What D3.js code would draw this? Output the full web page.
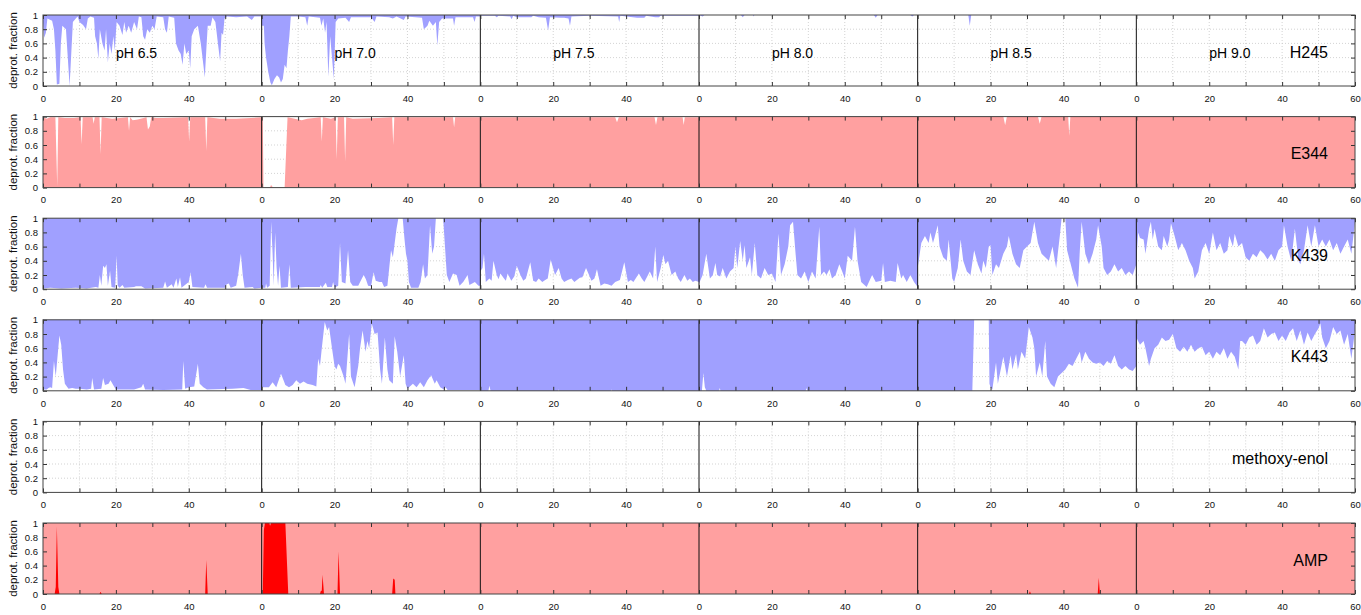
<!DOCTYPE html>
<html>
<head>
<meta charset="utf-8">
<script src="https://d3js.org/d3.v7.min.js"></script>
<style>
  body { margin: 0; background: #fff; }
  svg { display: block; font-family: "Liberation Sans", Arial, Helvetica, sans-serif; }
</style>
</head>
<body>
<svg id="chart" width="1361" height="615"></svg>
<script>
// pH windows, each 60 ns long, laid side by side
const phLabels = ["pH 6.5", "pH 7.0", "pH 7.5", "pH 8.0", "pH 8.5", "pH 9.0"];
const yTicks = [0, 0.2, 0.4, 0.6, 0.8, 1];

// deprotonated fraction per residue, one [time, value] list per pH window
const h245 = [
  [[0,0.9],[0.3,0.68],[0.8,0.75],[1.2,0.95],[2.5,0.92],[3,0.8],[3.4,0.5],[3.8,0.02],[4.5,0.03],[4.9,0.6],[5.3,0.85],[6.3,0.8],[6.8,0.4],[7.3,0],[7.7,0.4],[8.2,0.9],[9,0.95],[9.5,0.98],[10,0.9],[11,0.86],[11.8,0.8],[12.3,0.95],[13,0.98],[14,0.96],[14.3,0.7],[14.8,0.6],[15.2,0.38],[15.6,0.8],[16.3,0.6],[16.9,0.5],[17.3,0.8],[17.8,0.33],[18.3,0.6],[18.8,0.45],[19.3,0.7],[19.7,0.5],[20.2,0.9],[21,0.85],[21.8,0.72],[22.3,0.9],[22.8,0.75],[23.5,0.85],[24.2,0.75],[25,0.9],[25.8,0.8],[26.3,0.98],[27,0.97],[27.5,0.7],[28,0.65],[28.6,0.8],[29.3,0.75],[30,0.85],[30.6,0.8],[31.2,0.98],[33,0.97],[33.5,0.8],[34,0.75],[34.5,0.98],[36,0.96],[36.5,0.6],[37.2,0.5],[37.8,0.45],[38.3,0.3],[38.8,0.6],[39.3,0.45],[40,0.5],[40.4,0.25],[40.8,0.7],[41.5,0.8],[42.5,0.85],[43.3,0.6],[44,0.3],[44.4,0.12],[44.8,0.5],[45.2,0.85],[46,0.85],[46.5,0.97],[47.3,0.9],[48,0.6],[48.6,0.35],[49,0.75],[49.4,0.72],[49.8,0.95],[50.5,0.98],[53,0.97],[56,0.98],[57.3,0.93],[58,0.98],[60,0.98]],
  [[0,0.85],[0.6,0.85],[0.8,0.6],[1.2,0.4],[1.8,0.2],[2.4,0.05],[2.8,0.01],[3.5,0.1],[4.2,0.15],[4.8,0.12],[5.3,0.05],[5.8,0.1],[6.3,0.3],[6.8,0.25],[7.2,0.5],[7.6,0.7],[8,0.98],[10,0.98],[12,0.97],[12.5,0.85],[12.9,0.98],[16,0.96],[16.4,0.85],[16.9,0.95],[17.4,0.75],[17.8,0.9],[18.3,0.13],[18.8,0.7],[19.3,0.4],[19.8,0.1],[20.3,0.9],[21,0.95],[23,0.96],[24,0.9],[24.5,0.97],[30,0.97],[31,0.9],[31.5,0.98],[35,0.97],[36,0.95],[37,0.98],[39,0.93],[39.5,0.98],[44,0.96],[44.5,0.8],[45.5,0.85],[46,0.92],[47,0.85],[47.8,0.9],[48.2,0.57],[48.7,0.9],[49.5,0.95],[52.5,0.95],[52.8,0.85],[53.2,0.97],[58,0.97],[58.4,0.9],[58.8,0.98],[60,0.98]],
  [[0,0.99],[4,0.99],[4.5,0.97],[5,0.99],[8.2,0.98],[8.6,0.94],[9,0.99],[10,0.97],[14,0.97],[14.5,0.99],[16,0.97],[18,0.96],[18.6,0.78],[19.1,0.97],[22,0.96],[23,0.96],[24.2,0.95],[24.6,0.85],[25,0.98],[30,0.99],[37.8,0.98],[38.1,0.9],[38.4,0.99],[43,0.96],[45,0.96],[45.5,0.99],[48,0.97],[49,0.97],[49.5,0.99],[60,0.99]],
  [[0,1],[1,0.98],[1.5,1],[11.5,1],[12,0.97],[12.5,1],[14.8,1],[15,0.98],[15.2,1],[48,1],[48.5,0.96],[49,1],[58,1],[58.5,0.98],[59,1],[60,1]],
  [[0,1],[13.9,1],[14.3,0.85],[14.7,1],[60,1]],
  [[0,1],[60,1]]
];

const e344 = [
  [[0,0.99],[1,0.97],[2,0.99],[3.4,0.99],[3.9,0.02],[4.2,0.99],[6,0.98],[8.5,0.98],[10.3,0.99],[10.6,0.61],[10.9,0.99],[13.6,0.99],[13.9,0.9],[14.2,0.99],[15.5,0.99],[15.8,0.47],[16.1,0.99],[19,0.97],[23.3,0.99],[23.6,0.8],[23.9,0.99],[24.6,0.95],[26,0.96],[28.4,0.99],[28.8,0.82],[29.3,0.86],[29.7,0.99],[31,0.98],[33,0.98],[39.8,0.99],[40.1,0.65],[40.4,0.99],[44.5,0.99],[44.8,0.52],[45.1,0.99],[48.5,0.97],[53,0.97],[60,0.99]],
  [[0,0.99],[0.3,0.99],[0.5,0],[2.3,0],[2.5,0.03],[2.8,0.03],[3,0],[6.3,0],[7.1,0.99],[11,0.95],[12.5,0.97],[16.2,0.99],[16.5,0.65],[16.8,0.99],[19,0.97],[20.3,0.99],[20.6,0.4],[20.9,0.99],[22.6,0.99],[22.9,0.37],[23.2,0.99],[25,0.97],[32,0.98],[35.8,0.99],[36.1,0.6],[36.4,0.99],[52.5,0.99],[52.8,0.85],[53.1,0.99],[60,0.99]],
  [[0,0.99],[37,0.99],[37.5,0.92],[38,0.99],[47.8,0.99],[48.2,0.88],[48.6,0.99],[55.5,0.99],[55.8,0.88],[56.1,0.99],[60,0.99]],
  [[0,1],[60,1]],
  [[0,1],[23.5,1],[24,0.88],[24.5,1],[33,1],[33.5,0.9],[34,1],[41.3,1],[41.6,0.73],[41.9,1],[60,1]],
  [[0,1],[60,1]]
];

const k439 = [
  [[0,0.01],[2,0.02],[5,0.01],[9,0.02],[12,0.01],[14.5,0.03],[15.2,0.02],[15.6,0.2],[16,0.05],[16.5,0.33],[17,0.3],[17.4,0.35],[17.8,0.05],[18.4,0.26],[18.8,0.03],[19.8,0.02],[20.2,0.47],[20.5,0.05],[21,0.02],[21.8,0.06],[22.3,0.02],[25,0.03],[25.5,0.04],[27,0.04],[28,0.01],[33,0.02],[33.5,0.11],[34,0.02],[35.3,0.07],[35.8,0.02],[36.6,0.15],[37,0.03],[37.6,0.17],[38,0.02],[40,0.1],[40.5,0.24],[41,0.03],[44.2,0.02],[44.6,0.07],[45,0.02],[50,0.02],[50.4,0.07],[51,0.08],[51.5,0.02],[53,0.05],[53.6,0.22],[54.3,0.5],[54.8,0.2],[55.3,0.02],[57.5,0.03],[58,0.01],[60,0.02]],
  [[0,0.02],[1,0.02],[1.2,0.08],[1.5,0.02],[2.2,0.05],[2.6,0.95],[3,0.5],[3.3,0.05],[3.7,0.8],[4.1,0.3],[4.5,0.05],[4.9,0.33],[5.3,0.02],[7.2,0.03],[7.6,0.35],[8,0.02],[12,0.03],[16,0.03],[16.2,0.06],[16.6,0.02],[17.6,0.09],[18,0.03],[19.3,0.03],[19.6,0.1],[20,0.02],[21,0.05],[21.5,0.65],[22,0.1],[23,0.08],[23.7,0.55],[24.3,0.1],[25,0.05],[26.5,0.05],[27.5,0.15],[28,0.2],[28.6,0.14],[29.2,0.05],[30,0.04],[30.7,0.24],[31.3,0.12],[32.3,0.1],[33,0.1],[33.6,0.03],[34.5,0.05],[35,0.3],[35.5,0.55],[36,0.45],[36.5,0.65],[37,0.85],[37.5,1],[38.7,1],[39.2,0.7],[39.6,0.5],[40,0.4],[40.4,0.1],[41,0.02],[43,0.02],[43.6,0.1],[44.3,0.35],[44.8,0.15],[45.5,0.2],[46.2,0.9],[46.8,0.5],[47.3,0.6],[47.8,1],[49.8,1],[50.3,0.6],[50.8,0.2],[51.5,0.1],[52.5,0.22],[53.5,0.2],[54.3,0.05],[55.3,0.1],[56.5,0.2],[57,0.06],[58.5,0.1],[59.5,0.05],[60,0.05]],
  [[0,0.25],[0.6,0.3],[1,0.5],[1.5,0.1],[2.5,0.15],[3.1,0.12],[3.6,0.4],[4.5,0.2],[5,0.14],[5.5,0.22],[6.5,0.15],[7,0.12],[7.5,0.22],[8.5,0.12],[9.3,0.18],[10,0.33],[11,0.2],[11.8,0.12],[12.5,0.15],[13.7,0.38],[14.5,0.12],[15.3,0.1],[16,0.15],[17,0.1],[17.8,0.13],[18.5,0.15],[19.3,0.42],[20.5,0.2],[21.5,0.3],[22.3,0.15],[23,0.1],[24,0.13],[25,0.15],[25.8,0.1],[26.5,0.13],[27.3,0.16],[28,0.17],[29,0.3],[30.5,0.12],[31.3,0.15],[32,0.28],[33,0.05],[34,0.08],[35,0.07],[36,0.05],[37,0.1],[38.3,0.13],[39.5,0.38],[40.5,0.1],[41.3,0.13],[42,0.1],[43.5,0.22],[44.3,0.15],[45,0.1],[45.8,0.18],[46.5,0.25],[47.4,0.15],[48,0.6],[48.5,0.1],[49.5,0.3],[50.2,0.48],[50.8,0.35],[51.5,0.4],[52.5,0.2],[53.5,0.25],[54.3,0.15],[55,0.1],[56,0.2],[56.8,0.12],[57.5,0.15],[58.3,0.1],[59,0.12],[60,0.1]],
  [[0,0.08],[1,0.2],[2,0.5],[3,0.15],[3.8,0.2],[4.5,0.37],[5,0.2],[5.8,0.18],[6.5,0.3],[7.5,0.15],[8.5,0.25],[9.5,0.3],[10,0.6],[10.5,0.3],[11.3,0.68],[12,0.4],[12.5,0.62],[13,0.3],[14,0.45],[14.5,0.2],[15.3,0.65],[16,0.2],[17,0.15],[18,0.3],[19,0.2],[20,0.22],[21,0.1],[21.8,0.78],[22.5,0.2],[23.5,0.35],[24.5,0.6],[25,0.9],[25.8,0.95],[26.5,0.5],[27,0.2],[28,0.15],[29,0.25],[30,0.1],[31,0.25],[32,0.15],[33,0.88],[33.5,0.2],[34.3,0.25],[35,0.2],[35.8,0.28],[36.5,0.15],[37.5,0.2],[38.5,0.35],[39.3,0.25],[40,0.15],[40.8,0.47],[42,0.4],[42.8,0.88],[43.5,0.4],[44.5,0.1],[46,0.03],[47.5,0.2],[48.5,0.1],[50,0.12],[50.5,0.37],[51,0.1],[52.5,0.12],[54,0.1],[54.5,0.37],[55.5,0.15],[56,0.2],[57,0.1],[58,0.2],[59,0.1],[60,0.03]],
  [[0,0.3],[1,0.65],[2,0.75],[3,0.65],[3.5,0.8],[4.2,0.65],[4.6,0.72],[5.5,0.9],[6,0.6],[7,0.45],[8,0.4],[8.5,0.7],[9.5,0.15],[10,0.1],[11,0.3],[11.8,0.7],[12.5,0.4],[13.5,0.25],[14.5,0.2],[15.5,0.55],[16.5,0.35],[17.5,0.22],[18,0.4],[18.7,0.3],[19.5,0.6],[20,0.62],[20.5,0.2],[21.5,0.35],[22.3,0.3],[23.5,0.5],[24.5,0.6],[25,0.75],[26,0.5],[27,0.35],[28,0.3],[29,0.55],[30,0.6],[31,0.65],[32,0.95],[33,0.65],[34,0.5],[35,0.45],[36,0.4],[37,0.6],[38,0.3],[39,0.75],[39.5,1],[40.5,1],[41,0.55],[42,0.35],[43,0.15],[44,0.02],[44.5,0.55],[45,0.95],[46,0.5],[47,0.35],[48,0.5],[49,0.7],[49.5,0.9],[50.5,0.6],[51,0.3],[52,0.2],[53,0.25],[54,0.35],[55,0.25],[56,0.3],[57,0.2],[58,0.25],[59,0.2],[60,0.35]],
  [[0,0.4],[0.5,0.8],[1,0.72],[2,0.7],[2.5,0.5],[3.5,0.85],[4,0.95],[4.5,0.7],[5,0.85],[6,0.6],[7,0.55],[7.5,0.75],[8.5,0.6],[9,0.7],[9.5,0.93],[10.5,0.75],[11.5,0.55],[12.5,0.65],[13.5,0.55],[14.5,0.4],[15.5,0.3],[16,0.15],[17,0.25],[18,0.55],[19,0.65],[20,0.5],[21,0.8],[22,0.55],[23,0.65],[24,0.5],[25,0.55],[25.5,0.75],[26.5,0.6],[27,0.78],[28,0.6],[29,0.65],[30,0.45],[31,0.4],[32,0.5],[33,0.45],[34,0.55],[35,0.5],[36,0.42],[37,0.5],[38,0.4],[39,0.55],[40,0.6],[40.5,0.9],[41.5,0.6],[42.5,0.4],[43.5,0.85],[44.5,0.4],[45,0.35],[46,0.55],[47,0.9],[48,0.6],[49,0.9],[50,0.6],[51,0.7],[52,0.6],[53,0.7],[54,0.55],[55,0.65],[56,0.5],[57,0.6],[58,0.7],[59,0.5],[60,0.95]]
];

const k443 = [
  [[0,0.02],[1,0.02],[1.5,0.04],[2,0.05],[2.5,0.04],[3,0.42],[3.5,0.2],[4.5,0.78],[5,0.65],[5.5,0.3],[6,0.1],[7,0.03],[8,0.04],[9,0.03],[10,0.03],[12,0.02],[13.2,0.03],[13.5,0.18],[14,0.02],[16,0.03],[16.5,0.18],[17,0.08],[18,0.1],[18.5,0.15],[19.5,0.06],[20,0.02],[25,0.02],[27,0.05],[27.5,0.1],[28,0.02],[33,0.01],[38.2,0.02],[38.5,0.42],[39,0.03],[40,0.05],[41.5,0.06],[42.5,0.38],[43,0.1],[44,0.05],[45,0.02],[52,0.03],[55,0.04],[57,0.01],[60,0.01]],
  [[0,0.05],[2,0.05],[3,0.12],[4,0.05],[5.3,0.24],[6,0.15],[6.5,0.08],[7.5,0.05],[8.5,0.08],[9.5,0.15],[10.5,0.1],[11.5,0.13],[12.5,0.1],[14,0.08],[15,0.06],[15.5,0.45],[16,0.35],[16.5,0.6],[17.3,0.97],[18,0.85],[18.5,0.9],[19.3,0.6],[20,0.35],[20.5,0.3],[21,0.38],[21.5,0.35],[22.5,0.2],[23,0.1],[24,0.8],[24.5,0.2],[25.5,0.05],[26.5,0.35],[27,0.6],[27.7,0.85],[28.5,0.55],[29,0.7],[29.5,0.6],[30.2,0.95],[31,0.8],[31.8,0.82],[32.5,0.3],[33,0.1],[33.8,0.75],[34.5,0.3],[35,0.15],[36,0.1],[36.5,0.77],[37.2,0.55],[38,0.2],[39,0.5],[39.5,0.1],[40,0.03],[41.5,0.1],[42.5,0.05],[43.5,0.12],[44.5,0.05],[45.5,0.15],[46.5,0.22],[47.5,0.1],[48,0.15],[49,0.05],[50,0.02],[50.5,0.05],[51,0.01],[60,0.01]],
  [[0,0],[2.2,0],[2.5,0.07],[2.8,0],[21.3,0],[21.5,0.02],[21.7,0],[35.8,0],[36,0.02],[36.2,0],[60,0]],
  [[0,0],[0.8,0],[1.2,0.25],[1.6,0.05],[2,0],[5.5,0],[5.7,0.04],[5.9,0],[29.3,0],[29.5,0.04],[29.7,0],[60,0]],
  [[0,0],[15,0],[15.5,1],[19.5,1],[19.7,0.1],[20,0.05],[20.5,0.02],[21.5,0.4],[22,0.1],[23.5,0.48],[24.5,0.2],[25.5,0.5],[26,0.3],[27,0.52],[27.5,0.3],[28.5,0.55],[29.5,0.45],[30.5,0.9],[31.5,0.75],[32,0.6],[32.5,0.2],[33.5,0.4],[34.2,0.2],[35,0.7],[35.5,0.2],[36.5,0.1],[37.5,0.05],[38.5,0.2],[39.5,0.25],[40.5,0.3],[41.5,0.38],[42.5,0.35],[43.5,0.45],[44.5,0.55],[45,0.4],[46,0.55],[47,0.45],[48,0.4],[49,0.38],[50,0.4],[51,0.35],[52,0.42],[53,0.38],[54,0.5],[55,0.35],[56,0.3],[57,0.35],[58,0.3],[59,0.28],[60,0.35]],
  [[0,0.75],[1,0.65],[2,0.7],[2.5,0.6],[3.5,0.35],[4,0.45],[5,0.6],[6,0.65],[7,0.75],[8,0.7],[9,0.72],[10,0.8],[11,0.6],[12,0.55],[13,0.62],[14,0.55],[15,0.65],[16,0.55],[17,0.6],[18,0.62],[19,0.5],[20,0.55],[21,0.45],[22,0.55],[23,0.5],[24,0.6],[25,0.45],[26,0.55],[27,0.48],[28,0.3],[28.5,0.7],[29,0.7],[30,0.65],[31,0.75],[32,0.78],[33,0.65],[34,0.7],[35,0.88],[36,0.75],[37,0.8],[38,0.82],[39,0.7],[40,0.78],[41,0.7],[42,0.82],[43,0.88],[44,0.7],[45,0.85],[46,0.65],[47,0.82],[48,0.7],[49,0.8],[50,0.88],[50.5,0.95],[51,0.75],[52,0.6],[53,0.7],[54,0.9],[55,0.8],[56,0.85],[57,0.65],[58,0.8],[59,0.45],[60,0.85]]
];

const methoxyEnol = [
  [[0,0],[60,0]], [[0,0],[60,0]], [[0,0],[60,0]],
  [[0,0],[60,0]], [[0,0],[60,0]], [[0,0],[60,0]]
];

const amp = [
  [[0,0],[3.2,0],[3.5,0.1],[3.8,0.95],[4.2,0.1],[4.5,0],[15.5,0],[15.8,0.03],[16.1,0],[44.5,0],[44.8,0.48],[45.2,0],[60,0]],
  [[0,0],[0.3,0],[0.6,0.9],[0.9,1],[2.1,1],[2.3,0.96],[2.6,1],[6.5,1],[7.3,0],[16,0],[16.2,0.04],[16.5,0.05],[16.7,0.27],[17.1,0],[20.8,0],[21.1,0.6],[21.5,0],[35.8,0],[36.1,0.22],[36.5,0.2],[36.7,0],[60,0]],
  [[0,0],[60,0]],
  [[0,0],[60,0]],
  [[0,0],[30.5,0],[30.8,0.04],[31.1,0],[49.4,0],[49.7,0.23],[50,0],[60,0]],
  [[0,0],[60,0]]
];

const rows = [
  { name: "H245", data: h245, from: 1, fill: "#a0a0ff" },
  { name: "E344", data: e344, from: 0, fill: "#ffa0a0" },
  { name: "K439", data: k439, from: 1, fill: "#a0a0ff" },
  { name: "K443", data: k443, from: 1, fill: "#a0a0ff" },
  { name: "methoxy-enol", data: methoxyEnol, from: 0, fill: "#ff0000" },
  { name: "AMP", data: amp, from: 0, fill: "#ff0000", band: "#ffa0a0" }
];

const svg = d3.select("#chart");
const left = 43, right = 1355, top0 = 15, rowStep = 101.6, rowH = 71;
const segLen = 60, nSeg = phLabels.length, tMax = segLen * nSeg;

const x = d3.scaleLinear().domain([0, tMax]).range([left, right]);
const gridX = d3.range(10, tMax, 10).filter(t => t % segLen !== 0);
const labelX = d3.range(0, tMax + 1, 20);

rows.forEach((row, r) => {
  const top = top0 + r * rowStep;
  const y = d3.scaleLinear().domain([0, 1]).range([top + rowH, top]);
  const g = svg.append("g");

  // dotted grid
  g.selectAll(".gx").data(gridX).join("line")
    .attr("x1", d => x(d)).attr("x2", d => x(d))
    .attr("y1", y(0)).attr("y2", y(1))
    .attr("stroke", "#c8c8c8").attr("stroke-width", 0.8).attr("stroke-dasharray", "1,2");
  g.selectAll(".gy").data(yTicks.slice(1, -1)).join("line")
    .attr("x1", left).attr("x2", right)
    .attr("y1", d => y(d)).attr("y2", d => y(d))
    .attr("stroke", "#c8c8c8").attr("stroke-width", 0.8).attr("stroke-dasharray", "1,2");

  if (row.band) {
    g.append("rect")
      .attr("x", x(0)).attr("y", y(1))
      .attr("width", x(tMax) - x(0)).attr("height", y(0) - y(1))
      .attr("fill", row.band);
  }

  const area = d3.area()
    .x(d => x(d[0]))
    .y0(y(row.from))
    .y1(d => y(d[1]));

  row.data.forEach((seg, i) => {
    const pts = seg.map(([t, v]) => [t + i * segLen, v]);
    g.append("path").datum(pts)
      .attr("d", area)
      .attr("fill", row.fill);
  });

  // window separators
  g.selectAll(".sep").data(d3.range(segLen, tMax, segLen)).join("line")
    .attr("x1", d => x(d)).attr("x2", d => x(d))
    .attr("y1", y(0)).attr("y2", y(1))
    .attr("stroke", "#111").attr("stroke-width", 1);

  // axes with inward ticks
  const bottom = g.append("g").attr("transform", `translate(0,${y(0)})`)
    .call(d3.axisBottom(x).tickValues(d3.range(0, tMax + 1, 10)).tickSize(-4).tickPadding(9)
      .tickFormat(d => (d % segLen) % 20 === 0 ? String(d === tMax ? segLen : d % segLen) : ""));
  g.append("g").attr("transform", `translate(0,${y(1)})`)
    .call(d3.axisTop(x).tickValues(d3.range(0, tMax + 1, 10)).tickSize(-4).tickFormat(""));
  const yl = g.append("g").attr("transform", `translate(${left},0)`)
    .call(d3.axisLeft(y).tickValues(yTicks).tickSize(-4).tickPadding(5).tickFormat(d3.format("")));
  g.append("g").attr("transform", `translate(${right},0)`)
    .call(d3.axisRight(y).tickValues(yTicks).tickSize(-4).tickFormat(""));

  g.selectAll(".domain").remove();
  g.selectAll(".tick line").attr("stroke", "#333");
  [bottom, yl].forEach(a => a.selectAll("text")
    .attr("font-family", "'Liberation Sans', Arial, sans-serif")
    .attr("font-size", 9.5).attr("fill", "#111"));

  // frame
  g.append("rect")
    .attr("x", left).attr("y", y(1))
    .attr("width", right - left).attr("height", y(0) - y(1))
    .attr("fill", "none").attr("stroke", "#444").attr("stroke-width", 1);

  g.append("text")
    .attr("transform", `translate(17,${(y(0) + y(1)) / 2}) rotate(-90)`)
    .attr("text-anchor", "middle")
    .attr("font-size", 11.5).attr("fill", "#111")
    .text("deprot. fraction");

  g.append("text")
    .attr("x", 1328).attr("y", (y(0) + y(1)) / 2 + 7)
    .attr("text-anchor", "end")
    .attr("font-size", 16).attr("fill", "#000")
    .text(row.name);

  if (r === 0) {
    g.selectAll(".ph").data(phLabels).join("text")
      .attr("x", (d, i) => x(i * segLen + 20))
      .attr("y", (y(0) + y(1)) / 2 + 7)
      .attr("font-size", 14).attr("fill", "#000")
      .text(d => d);
  }
});
</script>
</body>
</html>
